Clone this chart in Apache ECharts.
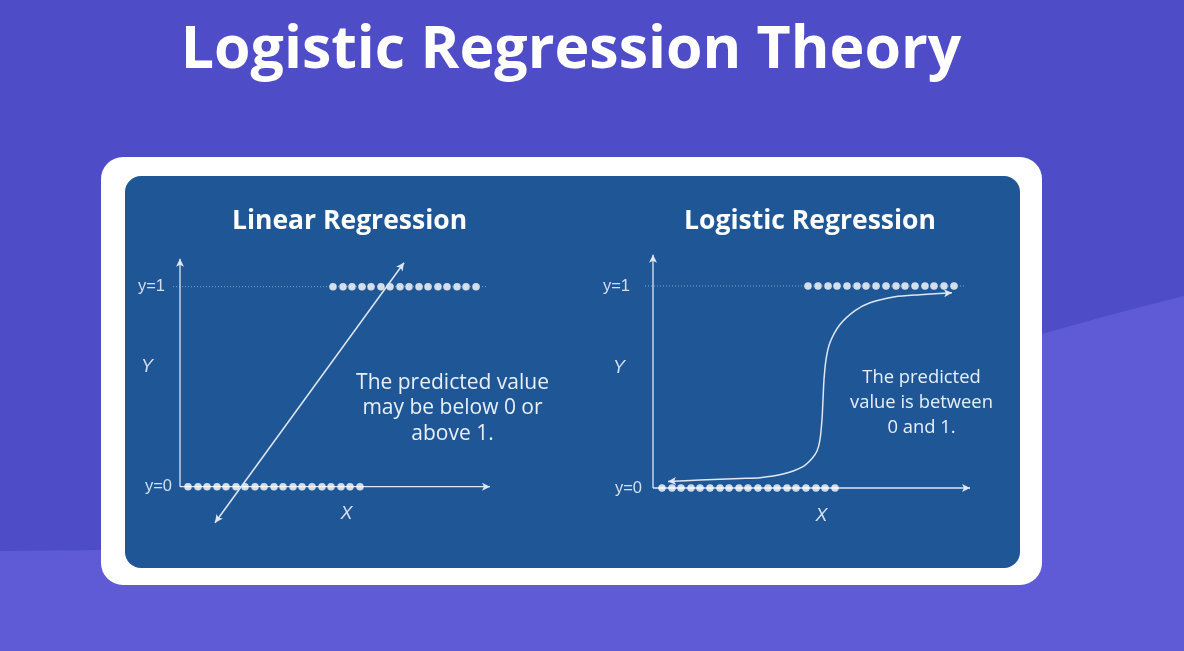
<!DOCTYPE html>
<html>
<head>
<meta charset="utf-8">
<script src="https://cdn.jsdelivr.net/npm/echarts@6/dist/echarts.min.js"></script>
<style>
html,body{margin:0;padding:0;background:#4f4cc7;}
#chart{width:1184px;height:651px;}
</style>
</head>
<body>
<div id="chart"></div>
<script>
// ---- Data ----
const pageTitle = 'Logistic Regression Theory';
const panelTitles = ['Linear Regression', 'Logistic Regression'];
const panelNotes = ['The predicted value\nmay be below 0 or\nabove 1.', 'The predicted\nvalue is between\n0 and 1.'];
const yTickLabels = { 0: 'y=0', 1: 'y=1' };
const axisNames = ['X', 'Y'];

// Linear panel: observed classes (x positions) at y=1 and y=0
const linTopDotsX = [15.3, 16.3, 17.2, 18.2, 19.1, 20.1, 21.0, 22.0, 22.9, 23.9, 24.8, 25.8, 26.7, 27.7, 28.6, 29.6];
const linBottomDotsX = [0.8, 1.8, 2.7, 3.7, 4.6, 5.6, 6.5, 7.5, 8.4, 9.4, 10.3, 11.3, 12.2, 13.2, 14.2, 15.1, 16.1, 17.0, 18.0];
const linFitX = [3.5, 22.4];
const linFitY = [-0.18, 1.12];

// Logistic panel
const logTopDotsX = [15.5, 16.5, 17.5, 18.4, 19.4, 20.4, 21.3, 22.3, 23.3, 24.3, 25.2, 26.2, 27.2, 28.1, 29.1, 30.1];
const logBottomDotsX = [0.9, 1.9, 2.8, 3.8, 4.7, 5.7, 6.7, 7.6, 8.6, 9.5, 10.5, 11.5, 12.4, 13.4, 14.3, 15.3, 16.3, 17.2, 18.2];
const sigX = [1.5, 4.7, 8.7, 10.7, 13.0, 15.0, 15.9, 16.4, 16.7, 16.9, 17.0, 17.1, 17.3, 17.7, 18.7, 20.2, 21.7, 24.2, 26.7, 29.9];
const sigY = [0.032, 0.039, 0.047, 0.051, 0.069, 0.106, 0.146, 0.183, 0.240, 0.339, 0.438, 0.537, 0.636, 0.720, 0.809, 0.878, 0.917, 0.947, 0.957, 0.967];

// Axis extents (data units)
const linAxisEnd = { x: 31, y: 1.14 };
const logAxisEnd = { x: 31.7, y: 1.155 };
const linGuide = [-0.7, 30.7];
const logGuide = [-0.8, 31.2];

// ---- Styles ----
const C = {
  bgTop: '#4f4cc7', bgBottom: '#5f5ad6', card: '#ffffff', panel: '#1f5796',
  line: '#dfe7f2', dot: '#ffffff', label: '#d6dfec', text: '#e9eff8'
};
const arrowSize = [6, 8];

function arrowPt(x, y, rot) {
  return { value: [x, y], symbol: 'arrow', symbolSize: arrowSize, symbolRotate: rot };
}
function plain(x, y) { return { value: [x, y], symbol: 'none' }; }

function panelSeries(gi, topX, bottomX, guide, axisEnd) {
  return [
    { type: 'line', xAxisIndex: gi, yAxisIndex: gi, z: 2, silent: true, symbol: 'none',
      data: [[guide[0], 1], [guide[1], 1]],
      lineStyle: { color: 'rgba(255,255,255,0.45)', width: 1, type: [1, 2] } },
    { type: 'line', xAxisIndex: gi, yAxisIndex: gi, z: 3, silent: true, showAllSymbol: true,
      data: [plain(0, 0), arrowPt(axisEnd.x, 0, -90)],
      itemStyle: { color: C.line }, lineStyle: { color: C.line, width: 1.3 } },
    { type: 'line', xAxisIndex: gi, yAxisIndex: gi, z: 3, silent: true, showAllSymbol: true,
      data: [plain(0, 0), arrowPt(0, axisEnd.y, 0)],
      itemStyle: { color: C.line }, lineStyle: { color: C.line, width: 1.3 } },
    { type: 'scatter', xAxisIndex: gi, yAxisIndex: gi, z: 5, silent: true, symbolSize: 7.5,
      itemStyle: { color: C.dot },
      data: topX.map(x => [x, 1]).concat(bottomX.map(x => [x, 0])) }
  ];
}

const linFitData = [arrowPt(linFitX[0], linFitY[0], 144), arrowPt(linFitX[1], linFitY[1], -36)];
const sigData = sigX.map((x, i) => {
  if (i === 0) return arrowPt(x, sigY[i], 93);
  if (i === sigX.length - 1) return arrowPt(x, sigY[i], -86);
  return plain(x, sigY[i]);
});

const yLabelFmt = (pad) => ({
  show: true, fontFamily: 'Liberation Sans', fontSize: 16.5, color: C.label,
  formatter: v => {
    if (Math.abs(v - 1) < 1e-6) return '{a|' + yTickLabels[1] + '}';
    if (Math.abs(v) < 1e-6) return '{b|' + yTickLabels[0] + '}';
    return '';
  },
  rich: { a: { padding: [0, pad, 0, 0] }, b: {} }
});

function valAxisX(gi) {
  return { type: 'value', gridIndex: gi, min: -1, max: 32, show: false };
}
function valAxisY(gi, margin, pad) {
  return {
    type: 'value', gridIndex: gi, min: -0.2, max: 1.2, interval: 0.2,
    axisLine: { show: false, onZero: false }, axisTick: { show: false }, splitLine: { show: false },
    axisLabel: Object.assign(yLabelFmt(pad), { margin: margin })
  };
}

// background wave outline (decorative, not data)
function waveOutline() {
  const p0 = [100, 550], p1 = [500, 540], p2 = [800, 390], p3 = [1184, 296];
  const pts = [[0, 551]];
  for (let i = 0; i <= 40; i++) {
    const t = i / 40, u = 1 - t;
    pts.push([
      u*u*u*p0[0] + 3*u*u*t*p1[0] + 3*u*t*t*p2[0] + t*t*t*p3[0],
      u*u*u*p0[1] + 3*u*u*t*p1[1] + 3*u*t*t*p2[1] + t*t*t*p3[1]
    ]);
  }
  pts.push([1184, 651], [0, 651]);
  return pts;
}

const chart = echarts.init(document.getElementById('chart'), null, { renderer: 'canvas' });

const textFont = (w, s, fam, style) => (style || 'normal') + ' ' + w + ' ' + s + 'px ' + fam;

chart.setOption({
  animation: false,
  backgroundColor: C.bgTop,
  grid: [
    { left: 170, top: 246.7, width: 330, height: 280 },
    { left: 643, top: 245.6, width: 330, height: 282.8 }
  ],
  xAxis: [valAxisX(0), valAxisX(1)],
  yAxis: [valAxisY(0, -2, 7), valAxisY(1, 1, 12)],
  graphic: [
    { type: 'polygon', z: -20, silent: true, shape: { points: waveOutline() }, style: { fill: C.bgBottom } },
    { type: 'rect', z: -15, silent: true, shape: { x: 101, y: 157, width: 941, height: 428, r: 22 }, style: { fill: C.card } },
    { type: 'rect', z: -14, silent: true, shape: { x: 125, y: 176, width: 895, height: 392, r: 16 }, style: { fill: C.panel } },
    { type: 'text', z: 10, silent: true, x: 571, y: 51,
      style: { text: pageTitle, fill: '#ffffff', font: textFont('bold', 59, '"Open Sans"'), textAlign: 'center', textVerticalAlign: 'middle' } },
    { type: 'text', z: 10, silent: true, x: 349.5, y: 221.5,
      style: { text: panelTitles[0], fill: '#ffffff', font: textFont('bold', 26.5, '"Open Sans"'), textAlign: 'center', textVerticalAlign: 'middle' } },
    { type: 'text', z: 10, silent: true, x: 810, y: 221.5,
      style: { text: panelTitles[1], fill: '#ffffff', font: textFont('bold', 26.5, '"Open Sans"'), textAlign: 'center', textVerticalAlign: 'middle' } },
    { type: 'text', z: 10, silent: true, x: 452.5, y: 408.5,
      style: { text: panelNotes[0], fill: C.text, font: textFont('normal', 21, '"Open Sans"'), lineHeight: 25.5, textAlign: 'center', textVerticalAlign: 'middle' } },
    { type: 'text', z: 10, silent: true, x: 921.5, y: 403,
      style: { text: panelNotes[1], fill: C.text, font: textFont('normal', 18.4, '"Open Sans"'), lineHeight: 25, textAlign: 'center', textVerticalAlign: 'middle' } },
    { type: 'text', z: 10, silent: true, x: 147, y: 367,
      style: { text: axisNames[1], fill: C.label, font: textFont('normal', 18, '"Liberation Sans"', 'italic'), textAlign: 'center', textVerticalAlign: 'middle' } },
    { type: 'text', z: 10, silent: true, x: 346.5, y: 513.5,
      style: { text: axisNames[0], fill: C.label, font: textFont('normal', 18, '"Liberation Sans"', 'italic'), textAlign: 'center', textVerticalAlign: 'middle' } },
    { type: 'text', z: 10, silent: true, x: 619, y: 367.5,
      style: { text: axisNames[1], fill: C.label, font: textFont('normal', 18, '"Liberation Sans"', 'italic'), textAlign: 'center', textVerticalAlign: 'middle' } },
    { type: 'text', z: 10, silent: true, x: 821.5, y: 515.5,
      style: { text: axisNames[0], fill: C.label, font: textFont('normal', 18, '"Liberation Sans"', 'italic'), textAlign: 'center', textVerticalAlign: 'middle' } }
  ],
  series: [].concat(
    panelSeries(0, linTopDotsX, linBottomDotsX, linGuide, linAxisEnd),
    [{ type: 'line', xAxisIndex: 0, yAxisIndex: 0, z: 6, silent: true, showAllSymbol: true,
       data: linFitData, itemStyle: { color: C.line }, lineStyle: { color: C.line, width: 1.5 } }],
    panelSeries(1, logTopDotsX, logBottomDotsX, logGuide, logAxisEnd),
    [{ type: 'line', xAxisIndex: 1, yAxisIndex: 1, z: 6, silent: true, showAllSymbol: true, smooth: 0.25,
       data: sigData, itemStyle: { color: C.line }, lineStyle: { color: C.line, width: 1.5 } }]
  )
});
</script>
</body>
</html>
